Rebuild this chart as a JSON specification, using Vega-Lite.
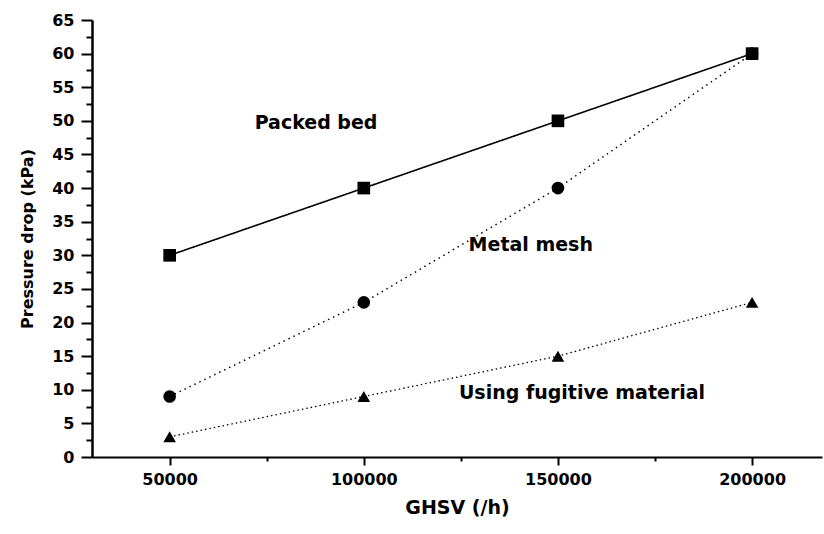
{
  "$schema": "https://vega.github.io/schema/vega-lite/v6.json",
  "width": 730,
  "height": 437,
  "autosize": {"type": "none"},
  "padding": {"left": 92, "top": 20, "right": 2, "bottom": 77},
  "background": "white",
  "config": {"view": {"stroke": null}, "font": "DejaVu Sans"},
  "datasets": {
    "series": [
      {"series": "Packed bed", "ghsv": 50000, "dp": 30},
      {"series": "Packed bed", "ghsv": 100000, "dp": 40},
      {"series": "Packed bed", "ghsv": 150000, "dp": 50},
      {"series": "Packed bed", "ghsv": 200000, "dp": 60},
      {"series": "Metal mesh", "ghsv": 50000, "dp": 9},
      {"series": "Metal mesh", "ghsv": 100000, "dp": 23},
      {"series": "Metal mesh", "ghsv": 150000, "dp": 40},
      {"series": "Metal mesh", "ghsv": 200000, "dp": 60},
      {"series": "Using fugitive material", "ghsv": 50000, "dp": 3},
      {"series": "Using fugitive material", "ghsv": 100000, "dp": 9},
      {"series": "Using fugitive material", "ghsv": 150000, "dp": 15},
      {"series": "Using fugitive material", "ghsv": 200000, "dp": 23}
    ],
    "labels": [
      {"label": "Packed bed", "ghsv": 87700, "dp": 49.7},
      {"label": "Metal mesh", "ghsv": 143000, "dp": 31.5},
      {"label": "Using fugitive material", "ghsv": 156200, "dp": 9.5}
    ]
  },
  "encoding": {
    "x": {
      "field": "ghsv",
      "type": "quantitative",
      "scale": {"domain": [30000, 218000], "nice": false, "zero": false},
      "axis": {
        "title": "GHSV (/h)",
        "values": [50000, 75000, 100000, 125000, 150000, 175000, 200000],
        "labelExpr": "datum.value % 50000 === 0 ? format(datum.value, 'd') : ''",
        "grid": false,
        "domainColor": "black",
        "domainWidth": 2,
        "tickColor": "black",
        "tickWidth": 2,
        "tickSize": {"condition": {"test": "datum.value % 50000 !== 0", "value": 4}, "value": 8},
        "labelFont": "DejaVu Sans",
        "labelFontWeight": "bold",
        "labelFontSize": 16,
        "labelColor": "black",
        "labelPadding": 6,
        "titleFont": "DejaVu Sans",
        "titleFontWeight": "bold",
        "titleFontSize": 19,
        "titleColor": "black",
        "titlePadding": 11
      }
    },
    "y": {
      "field": "dp",
      "type": "quantitative",
      "scale": {"domain": [0, 65], "nice": false},
      "axis": {
        "title": "Pressure drop (kPa)",
        "values": [0, 2.5, 5, 7.5, 10, 12.5, 15, 17.5, 20, 22.5, 25, 27.5, 30, 32.5, 35, 37.5, 40, 42.5, 45, 47.5, 50, 52.5, 55, 57.5, 60, 62.5, 65],
        "labelExpr": "datum.value % 5 === 0 ? datum.label : ''",
        "grid": false,
        "domainColor": "black",
        "domainWidth": 2.5,
        "tickColor": "black",
        "tickWidth": 2,
        "tickSize": {"condition": {"test": "datum.value % 5 !== 0", "value": 6}, "value": 11},
        "labelFont": "DejaVu Sans",
        "labelFontWeight": "bold",
        "labelFontSize": 16,
        "labelColor": "black",
        "labelPadding": 7,
        "titleFont": "DejaVu Sans",
        "titleFontWeight": "bold",
        "titleFontSize": 16,
        "titleColor": "black",
        "titlePadding": 16
      }
    }
  },
  "layer": [
    {
      "data": {"name": "series"},
      "mark": {"type": "line", "color": "black"},
      "encoding": {
        "detail": {"field": "series"},
        "strokeDash": {
          "field": "series",
          "type": "nominal",
          "scale": {
            "domain": ["Packed bed", "Metal mesh", "Using fugitive material"],
            "range": [[1, 0], [1.5, 4], [1.5, 3]]
          },
          "legend": null
        },
        "strokeWidth": {
          "field": "series",
          "type": "nominal",
          "scale": {
            "domain": ["Packed bed", "Metal mesh", "Using fugitive material"],
            "range": [1.6, 1.3, 1.3]
          },
          "legend": null
        }
      }
    },
    {
      "data": {"name": "series"},
      "mark": {"type": "point", "filled": true, "color": "black", "opacity": 1, "size": 160},
      "encoding": {
        "shape": {
          "field": "series",
          "type": "nominal",
          "scale": {
            "domain": ["Packed bed", "Metal mesh", "Using fugitive material"],
            "range": ["square", "circle", "triangle-up"]
          },
          "legend": null
        }
      }
    },
    {
      "data": {"name": "labels"},
      "mark": {
        "type": "text",
        "font": "DejaVu Sans",
        "fontWeight": "bold",
        "fontSize": 19,
        "color": "black",
        "align": "center",
        "baseline": "middle"
      },
      "encoding": {
        "text": {"field": "label"}
      }
    }
  ]
}
